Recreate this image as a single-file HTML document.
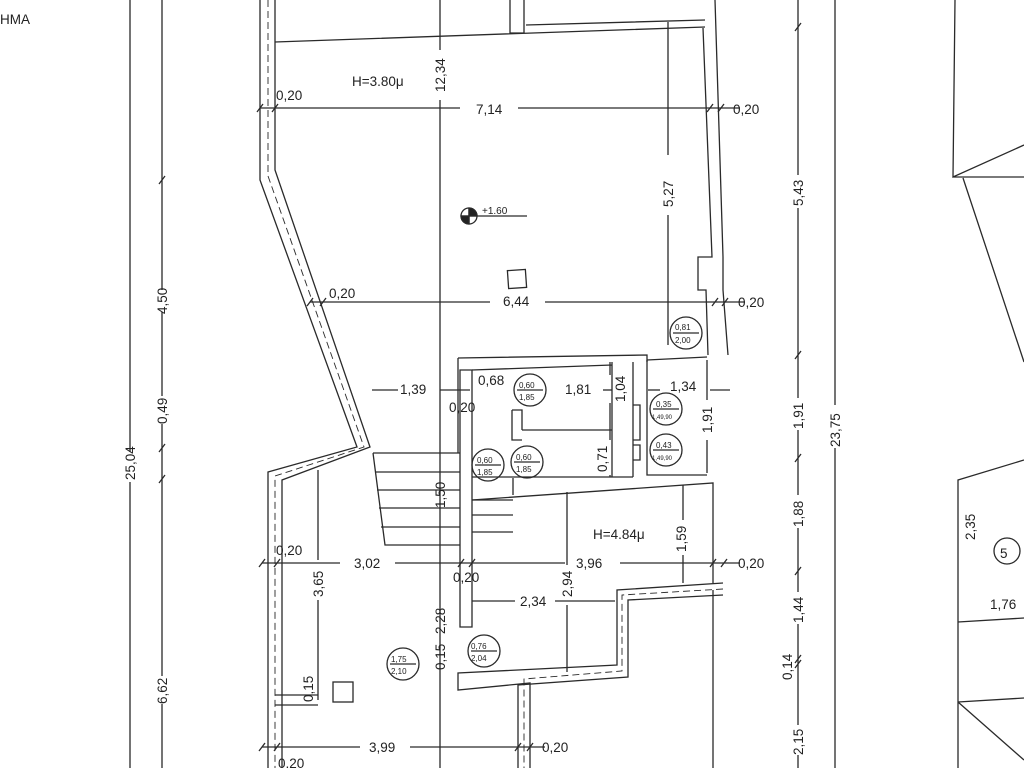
<!DOCTYPE html>
<html><head><meta charset="utf-8"><style>
html,body{margin:0;padding:0;background:#fff;width:1024px;height:768px;overflow:hidden}
svg{display:block}
text{font-family:"Liberation Sans",sans-serif;fill:#222;font-size:13.5px}
.s{font-size:8px}
</style></head><body>
<svg width="1024" height="768" viewBox="0 0 1024 768" xmlns="http://www.w3.org/2000/svg">
<g stroke="#2a2a2a" stroke-width="1.3" fill="none">
<line x1="130" y1="0" x2="130" y2="452"/><line x1="130" y1="482" x2="130" y2="768"/>
<line x1="162" y1="0" x2="162" y2="290"/><line x1="162" y1="312" x2="162" y2="396"/><line x1="162" y1="424" x2="162" y2="676"/><line x1="162" y1="704" x2="162" y2="768"/>
<path d="M159 184l6-8M159 452l6-8M159 483l6-8"/>
<line x1="798" y1="0" x2="798" y2="175"/><line x1="798" y1="208" x2="798" y2="398"/><line x1="798" y1="430" x2="798" y2="495"/><line x1="798" y1="528" x2="798" y2="592"/><line x1="798" y1="624" x2="798" y2="725"/><line x1="798" y1="755" x2="798" y2="768"/>
<path d="M795 31l6-8M795 359l6-8M795 462l6-8M795 575l6-8M795 663l6-8M795 668l6-8"/>
<line x1="835" y1="0" x2="835" y2="405"/><line x1="835" y1="448" x2="835" y2="768"/>
<path d="M955 0L953 177L1024 145M953 177H1024M963 178L1024 362"/>
<path d="M1024 460L958 480V768M958 622L1024 618M958 702L1024 698M958 702L1024 760"/>
<circle cx="1007" cy="551" r="13"/>
<path d="M275 42L705 27M526 25L705 20M510 0V33H524V0"/>
<path d="M260 0V180L357 447L268 472V768"/>
<path d="M275 0V170L370 447L282 480V768"/>
<path d="M268 0V176L364 447L275 476V768" stroke-dasharray="7 4" stroke-width="0.9"/>
<path d="M703 28L712 257H698V290H706L708 355"/>
<path d="M715 0L723 257V290L728 355"/>
<line x1="260" y1="108" x2="460" y2="108"/><line x1="518" y1="108" x2="740" y2="108"/>
<path d="M257 112l6-8M272 112l6-8M707 112l6-8M718 112l6-8"/>
<line x1="440" y1="0" x2="440" y2="50"/><line x1="440" y1="100" x2="440" y2="768"/>
<line x1="668" y1="22" x2="668" y2="155"/><line x1="668" y1="215" x2="668" y2="345"/>
<line x1="310" y1="302" x2="490" y2="302"/><line x1="545" y1="302" x2="745" y2="302"/>
<path d="M307 306l6-8M320 306l6-8M712 306l6-8M722 306l6-8"/>
<circle cx="469" cy="216" r="8"/><path d="M469 208V224M461 216H527"/>
<path d="M469 208A8 8 0 0 1 477 216H469Z M469 224A8 8 0 0 1 461 216H469Z" fill="#222"/>
<rect x="508" y="270" width="18" height="18" transform="rotate(-4 517 279)"/>
<circle cx="686" cy="333" r="16"/><line x1="673" y1="333" x2="699" y2="333"/>
<path d="M458 358L647 355V362M458 358V453"/>
<path d="M460 370V627H472V370Z"/>
<path d="M472 370L612 365M612 362V477M633 362V477M472 477H633M522 430H612M512 410V440H522M512 410H522V430"/>
<path d="M647 360V475H707M647 360L707 357"/>
<path d="M633 405H640V440H633M633 445H640V460H633"/>
<circle cx="530" cy="390" r="16"/><line x1="517" y1="390" x2="543" y2="390"/>
<circle cx="488" cy="465" r="16"/><line x1="475" y1="465" x2="501" y2="465"/>
<circle cx="527" cy="462" r="16"/><line x1="514" y1="462" x2="540" y2="462"/>
<circle cx="666" cy="409" r="16"/><line x1="653" y1="409" x2="679" y2="409"/>
<circle cx="666" cy="450" r="16"/><line x1="653" y1="450" x2="679" y2="450"/>
<circle cx="484" cy="651" r="16"/><line x1="471" y1="651" x2="497" y2="651"/>
<circle cx="403" cy="664" r="16"/><line x1="390" y1="664" x2="416" y2="664"/>
<path d="M373 453L385 545H460M373 453H460M375 472H460M377 490H460M379 508H460M381 527H460"/>
<path d="M472 500H513M472 515H513M472 532H513M513 478V495"/>
<line x1="372" y1="390" x2="398" y2="390"/><line x1="440" y1="390" x2="470" y2="390"/><line x1="603" y1="390" x2="612" y2="390"/><line x1="648" y1="390" x2="660" y2="390"/><line x1="710" y1="390" x2="730" y2="390"/>
<line x1="610" y1="362" x2="610" y2="375"/><line x1="610" y1="403" x2="610" y2="440"/><line x1="610" y1="475" x2="610" y2="477"/>
<line x1="707" y1="360" x2="707" y2="400"/><line x1="707" y1="440" x2="707" y2="473"/>
<path d="M472 500L713 483V583M713 590V768"/>
<line x1="262" y1="563" x2="340" y2="563"/><line x1="395" y1="563" x2="565" y2="563"/><line x1="620" y1="563" x2="740" y2="563"/>
<path d="M259 567l6-8M274 567l6-8M458 567l6-8M469 567l6-8M710 567l6-8M721 567l6-8"/>
<line x1="318" y1="470" x2="318" y2="560"/><line x1="318" y1="600" x2="318" y2="700"/>
<line x1="567" y1="492" x2="567" y2="565"/><line x1="567" y1="605" x2="567" y2="672"/>
<line x1="683" y1="485" x2="683" y2="520"/><line x1="683" y1="555" x2="683" y2="583"/>
<line x1="472" y1="601" x2="515" y2="601"/><line x1="555" y1="601" x2="615" y2="601"/>
<path d="M723 583L617 590V665L458 673V690L530 683V768"/>
<path d="M723 595L628 600V677L518 685V768"/>
<path d="M723 589L622 595V671L524 679V768" stroke-dasharray="7 4" stroke-width="0.9"/>
<path d="M275 695H318M275 705H318"/>
<rect x="333" y="682" width="20" height="20"/>
<line x1="262" y1="747" x2="360" y2="747"/><line x1="410" y1="747" x2="545" y2="747"/>
<path d="M259 751l6-8M274 751l6-8M515 751l6-8M527 751l6-8"/>
</g>
<text x="0" y="24">HMA</text>
<text x="352" y="86" font-size="14">H=3.80μ</text>
<text x="276" y="100">0,20</text>
<text x="476" y="114">7,14</text>
<text x="733" y="114">0,20</text>
<text x="482" y="214" style="font-size:10px">+1.60</text>
<text x="329" y="298">0,20</text>
<text x="503" y="306">6,44</text>
<text x="738" y="307">0,20</text>
<text x="675" y="330" class="s">0,81</text><text x="675" y="343" class="s">2,00</text>
<text x="400" y="394">1,39</text>
<text x="478" y="385">0,68</text>
<text x="565" y="394">1,81</text>
<text x="449" y="412">0,20</text>
<text x="670" y="391">1,34</text>
<text x="519" y="388" class="s">0,60</text><text x="519" y="400" class="s">1,85</text>
<text x="477" y="463" class="s">0,60</text><text x="477" y="475" class="s">1,85</text>
<text x="516" y="460" class="s">0,60</text><text x="516" y="472" class="s">1,85</text>
<text x="656" y="407" class="s">0,35</text><text x="652" y="419" style="font-size:6px">1,49,90</text>
<text x="656" y="448" class="s">0,43</text><text x="652" y="460" style="font-size:6px">1,49,90</text>
<text x="471" y="649" class="s">0,76</text><text x="471" y="661" class="s">2,04</text>
<text x="391" y="662" class="s">1,75</text><text x="391" y="674" class="s">2,10</text>
<text x="593" y="539" font-size="14">H=4.84μ</text>
<text x="276" y="555">0,20</text>
<text x="354" y="568">3,02</text>
<text x="453" y="582">0,20</text>
<text x="576" y="568">3,96</text>
<text x="738" y="568">0,20</text>
<text x="520" y="606">2,34</text>
<text x="369" y="752">3,99</text>
<text x="542" y="752">0,20</text>
<text x="278" y="768">0,20</text>
<text x="1000" y="558" font-size="20">5</text>
<text x="990" y="609">1,76</text>
<g>
<text transform="translate(445,92) rotate(-90)">12,34</text>
<text transform="translate(673,207) rotate(-90)">5,27</text>
<text transform="translate(625,402) rotate(-90)">1,04</text>
<text transform="translate(712,433) rotate(-90)">1,91</text>
<text transform="translate(607,472) rotate(-90)">0,71</text>
<text transform="translate(445,508) rotate(-90)">1,50</text>
<text transform="translate(686,552) rotate(-90)">1,59</text>
<text transform="translate(323,597) rotate(-90)">3,65</text>
<text transform="translate(572,597) rotate(-90)">2,94</text>
<text transform="translate(445,634) rotate(-90)">2,28</text>
<text transform="translate(445,670) rotate(-90)">0,15</text>
<text transform="translate(313,702) rotate(-90)">0,15</text>
<text transform="translate(135,480) rotate(-90)">25,04</text>
<text transform="translate(167,314) rotate(-90)">4,50</text>
<text transform="translate(167,424) rotate(-90)">0,49</text>
<text transform="translate(167,704) rotate(-90)">6,62</text>
<text transform="translate(803,206) rotate(-90)">5,43</text>
<text transform="translate(803,429) rotate(-90)">1,91</text>
<text transform="translate(803,527) rotate(-90)">1,88</text>
<text transform="translate(803,623) rotate(-90)">1,44</text>
<text transform="translate(792,680) rotate(-90)">0,14</text>
<text transform="translate(803,755) rotate(-90)">2,15</text>
<text transform="translate(840,447) rotate(-90)">23,75</text>
<text transform="translate(975,540) rotate(-90)">2,35</text>
</g>
</svg>
</body></html>
